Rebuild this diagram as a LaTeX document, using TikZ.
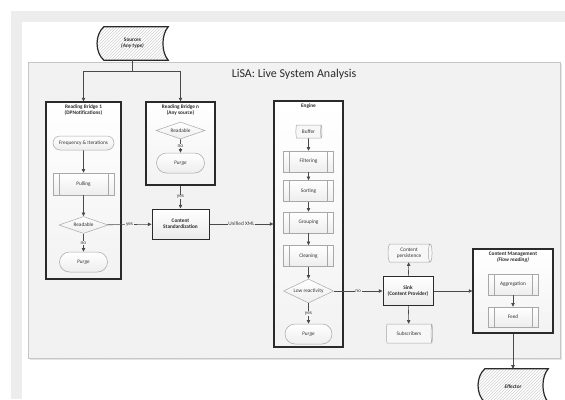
\documentclass[tikz,border=0pt]{standalone}
\usepackage{fontspec}
\setmainfont{Carlito}
\usetikzlibrary{shapes.geometric,shapes.misc,patterns,arrows.meta}

\definecolor{frame}{HTML}{EDEDED}
\definecolor{panel}{HTML}{F4F4F4}
\definecolor{panelline}{HTML}{C6C6C6}
\definecolor{ink}{HTML}{2A2A2A}
\definecolor{soft}{HTML}{A8A8A8}
\definecolor{txt}{HTML}{363636}
\definecolor{wire}{HTML}{4A4A4A}

\tikzset{
  every node/.style={font=\fontsize{5.3}{6.3}\selectfont, text=txt, inner sep=1pt, align=center},
  container/.style={draw=ink, line width=1.2pt, top color=white, bottom color=black!5, inner sep=0pt},
  boxtitle/.style={anchor=north, font=\bfseries\fontsize{5.3}{6.3}\selectfont, text=ink, yshift=-2pt},
  procbox/.style={draw=ink, line width=1pt, top color=white, bottom color=black!8,
    font=\bfseries\fontsize{5.3}{6.3}\selectfont, text=ink},
  term/.style={rounded rectangle, draw=soft, line width=0.5pt, top color=white, bottom color=black!7},
  subr/.style={rectangle, draw=soft, line width=0.5pt, top color=white, bottom color=black!7,
    minimum width=50pt, minimum height=21pt,
    path picture={\draw[soft, line width=0.4pt]
      ([xshift=6pt]path picture bounding box.north west) -- ([xshift=6pt]path picture bounding box.south west)
      ([xshift=-6pt]path picture bounding box.north east) -- ([xshift=-6pt]path picture bounding box.south east);}},
  dec/.style={diamond, draw=soft, line width=0.5pt, top color=white, bottom color=black!7, inner sep=0pt},
  store/.style={cylinder, draw=soft, line width=0.5pt, fill=black!3, shape aspect=0.35, inner sep=0pt},
  arrow/.style={draw=wire, line width=0.6pt, -{Triangle[length=3.6pt,width=3.4pt]}},
  wireline/.style={draw=wire, line width=0.6pt},
  lbl/.style={fill=#1, inner sep=0.6pt, font=\fontsize{5.3}{6}\selectfont},
  datashape/.style={draw=ink, line width=1.2pt, preaction={fill=white}, pattern=north east lines, pattern color=black!18},
}

\begin{document}
\begin{tikzpicture}[x=1pt,y=-1pt]
\useasboundingbox (0,0) rectangle (565,399);
% window frame
\fill[white] (0,0) rectangle (565,399);
\fill[frame] (11,11) rectangle (565,399);
\fill[white] (22,22) rectangle (565,399);

% system panel with a faint shadow
\fill[black!10] (29.5,63.5) rectangle (561.5,359.5);
\draw[panelline, line width=0.6pt, preaction={fill=panel}, pattern=north east lines, pattern color=black!6]
  (28,62) rectangle (560,358);
\node[font=\fontsize{12}{14}\selectfont, text=ink] (title) at (294,74) {LiSA: Live System Analysis};

% input data
\node[minimum width=71pt, minimum height=33pt, inner sep=0pt] (src) at (132.5,43.5) {};
\draw[datashape] ([xshift=7pt]src.north west) -- (src.north east)
  .. controls ([xshift=-7pt,yshift=-8pt]src.north east) and ([xshift=-7pt,yshift=8pt]src.south east) .. (src.south east)
  -- ([xshift=7pt]src.south west)
  .. controls ([xshift=-2pt,yshift=8pt]src.south west) and ([xshift=-2pt,yshift=-8pt]src.north west) .. ([xshift=7pt]src.north west) -- cycle;
\node[font=\bfseries\fontsize{5.3}{6.3}\selectfont, text=ink] at (src) {Sources\\\textit{(Any type)}};

% reading bridge 1
\node[container, minimum width=75pt, minimum height=177pt] (rb1) at (83.5,190.5) {};
\node[boxtitle] at (rb1.north) {Reading Bridge 1\\(DPNotifications)};
\node[term, minimum width=63pt, minimum height=14pt] (freq) at (83.5,143) {Frequency \& Iterations};
\node[subr, minimum width=61pt, minimum height=22pt] (pull) at (83.5,184) {Pulling};
\node[dec, aspect=2.9, minimum width=49pt, minimum height=17pt] (rd1) at (83.5,225) {Readable};
\node[term, minimum width=50pt, minimum height=20pt, font=\itshape\fontsize{5.3}{6.3}\selectfont] (pg1) at (83.5,262) {Purge};

% reading bridge n
\node[container, minimum width=69pt, minimum height=83pt] (rbn) at (180.5,143.5) {};
\node[boxtitle] at (rbn.north) {Reading Bridge n\\(Any source)};
\node[dec, aspect=2.9, minimum width=49pt, minimum height=17pt] (rdn) at (180.5,130.5) {Readable};
\node[term, minimum width=50pt, minimum height=20pt, font=\itshape\fontsize{5.3}{6.3}\selectfont] (pgn) at (180.5,163) {Purge};

% standardization
\node[procbox, minimum width=57pt, minimum height=30pt] (std) at (180.5,224) {Content\\Standardization};

% engine
\node[container, minimum width=69pt, minimum height=246pt] (eng) at (308.5,224) {};
\node[boxtitle] at (eng.north) {Engine};
\node[store, minimum height=26pt, minimum width=13pt] (buf) at (308.5,131.5) {Buffer};
\node[subr] (filt) at (308.5,161.5) {Filtering};
\node[subr] (sort) at (308.5,191) {Sorting};
\node[subr] (grp) at (308.5,222.5) {Grouping};
\node[subr] (cln) at (308.5,256) {Cleaning};
\node[dec, aspect=2.1, minimum width=50pt, minimum height=24pt] (low) at (308.5,291) {Low reactivity};
\node[term, minimum width=49pt, minimum height=20pt, font=\itshape\fontsize{5.3}{6.3}\selectfont] (pg3) at (308.5,334) {Purge};

% sink and stores
\node[procbox, minimum width=50pt, minimum height=29pt] (sink) at (408,291) {Sink\\(Content Provider)};
\node[store, minimum height=44pt, minimum width=18pt] (pers) at (409,253) {Content\\persistence};
\node[store, minimum height=46pt, minimum width=19pt] (subs) at (409,333.5) {Subscribers};

% content management
\node[container, minimum width=80pt, minimum height=84pt] (cm) at (513,291) {};
\node[boxtitle] at (cm.north) {Content Management\\\textit{(Flow reading)}};
\node[subr] (agg) at (513,284.5) {Aggregation};
\node[subr, minimum height=20pt] (feed) at (513,317) {Feed};

% output data
\node[minimum width=70pt, minimum height=33pt, inner sep=0pt] (eff) at (513,385.5) {};
\draw[datashape] ([xshift=7pt]eff.north west) -- (eff.north east)
  .. controls ([xshift=-7pt,yshift=-8pt]eff.north east) and ([xshift=-7pt,yshift=8pt]eff.south east) .. (eff.south east)
  -- ([xshift=7pt]eff.south west)
  .. controls ([xshift=-2pt,yshift=8pt]eff.south west) and ([xshift=-2pt,yshift=-8pt]eff.north west) .. ([xshift=7pt]eff.north west) -- cycle;
\node[font=\bfseries\itshape\fontsize{5.3}{6.3}\selectfont, text=ink] at ([yshift=-1pt]eff) {Effector};

% connectors
\draw[wireline] (src.south) -- ++(0,11) coordinate (split);
\draw[arrow] (split) -| (rb1.north);
\draw[arrow] (split) -| (rbn.north);

\draw[arrow] (freq) -- (pull);
\draw[arrow] (pull) -- (rd1);
\draw[arrow] (rd1) -- node[lbl=black!3]{no} (pg1);
\draw[arrow] (rd1) -- node[lbl=panel]{yes} (std);

\draw[arrow] (rdn) -- node[lbl=black!3]{no} (pgn);
\draw[arrow] (rbn) -- node[lbl=panel]{yes} (std);

\draw[arrow] (std) -- node[lbl=panel]{Unified XML} (std -| eng.west);

\draw[arrow] (buf) -- (filt);
\draw[arrow] (filt) -- (sort);
\draw[arrow] (sort) -- (grp);
\draw[arrow] (grp) -- (cln);
\draw[arrow] (cln) -- (low);
\draw[arrow] (low) -- node[lbl=black!4]{yes} (pg3);

\draw[arrow] (low) -- node[lbl=panel]{no} (sink);
\draw[arrow] (sink) -- (pers);
\draw[arrow] (sink) -- (subs);
\draw[arrow] (sink) -- (sink -| cm.west);

\draw[arrow] (agg) -- (feed);
\draw[arrow] (cm.south) -- (eff.north);
\end{tikzpicture}
\end{document}
